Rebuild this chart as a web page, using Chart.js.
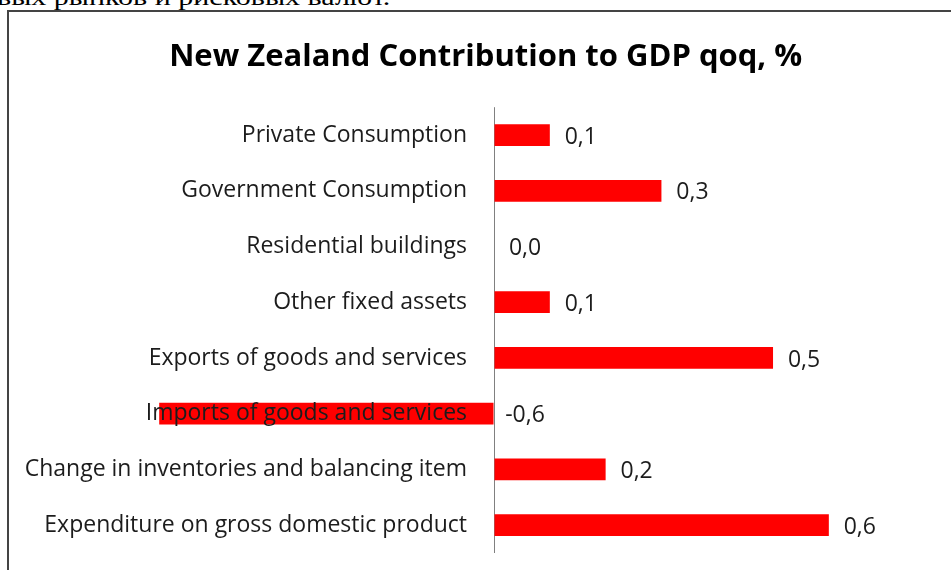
<!DOCTYPE html>
<html>
<head>
<meta charset="utf-8">
<script src="https://cdn.jsdelivr.net/npm/chart.js@4.4.1/dist/chart.umd.min.js"></script>
<style>
    html, body { margin: 0; padding: 0; background: #fff; width: 951px; height: 570px; overflow: hidden; }
    #lead {
        position: absolute; left: -3px; top: -15px;
        font: 24px/24px "Liberation Serif", serif; color: #000;
        white-space: nowrap;
        transform: scaleX(1.25); transform-origin: left top;
    }
    #frame {
        position: absolute; left: 7px; top: 10px; width: 1000px; height: 620px;
        border: 2px solid #444;
    }
    #chart { position: absolute; left: 0; top: 0; }
</style>
</head>
<body>
<div id="lead">вых рынков и рисковых валют.</div>
<div id="frame"></div>
<canvas id="chart" width="951" height="570"></canvas>
<script>
const categories = [
    'Private Consumption',
    'Government Consumption',
    'Residential buildings',
    'Other fixed assets',
    'Exports of goods and services',
    'Imports of goods and services',
    'Change in inventories and balancing item',
    'Expenditure on gross domestic product'
];
const contributions = [0.1, 0.3, 0.0, 0.1, 0.5, -0.6, 0.2, 0.6];

const labelFont = { family: 'Open Sans', size: 23 };
const textColor = '#1c1c1c';
const fontCss = `${labelFont.size}px "${labelFont.family}"`;

// category names sit just left of the zero line, on top of the bars;
// values sit right of the bar end (or right of the zero line for negatives)
const barLabels = {
    id: 'barLabels',
    afterDatasetsDraw(chart) {
        const ctx = chart.ctx;
        const xs = chart.scales.x;
        const ys = chart.scales.y;
        const zero = xs.getPixelForValue(0);
        ctx.save();
        ctx.font = fontCss;
        ctx.fillStyle = textColor;
        ctx.textBaseline = 'middle';
        categories.forEach((name, i) => {
            const y = ys.getPixelForTick(i);
            const v = contributions[i];
            ctx.textAlign = 'right';
            ctx.fillText(name, zero - 27, y);
            ctx.textAlign = 'center';
            ctx.fillText(v.toFixed(1).replace('.', ','), xs.getPixelForValue(Math.max(v, 0)) + 31, y + 2);
        });
        ctx.restore();
    }
};

new Chart(document.getElementById('chart'), {
    type: 'bar',
    data: {
        labels: categories,
        datasets: [{
            data: contributions,
            backgroundColor: '#ff0000',
            borderWidth: 0,
            categoryPercentage: 1,
            barPercentage: 0.39
        }]
    },
    options: {
        indexAxis: 'y',
        responsive: false,
        animation: false,
        devicePixelRatio: 1,
        layout: { padding: { top: 0, bottom: 17, left: 75.5, right: 55.2 } },
        scales: {
            x: {
                min: -0.75,
                max: 0.72,
                ticks: { display: false, stepSize: 0.05 },
                border: { display: false },
                grid: {
                    drawTicks: false,
                    // only the zero line is shown
                    color: c => (c.tick && Math.abs(c.tick.value) < 1e-9) ? '#808080' : 'rgba(0,0,0,0)',
                    borderDash: [2, 2]
                }
            },
            y: { display: false }
        },
        plugins: {
            legend: { display: false },
            tooltip: { enabled: false },
            title: {
                display: true,
                text: 'New Zealand Contribution to GDP qoq, %',
                color: '#000',
                font: { family: 'Open Sans', size: 31, weight: 'bold' },
                padding: { top: 39, bottom: 31 }
            }
        }
    },
    plugins: [barLabels]
});
</script>
</body>
</html>
